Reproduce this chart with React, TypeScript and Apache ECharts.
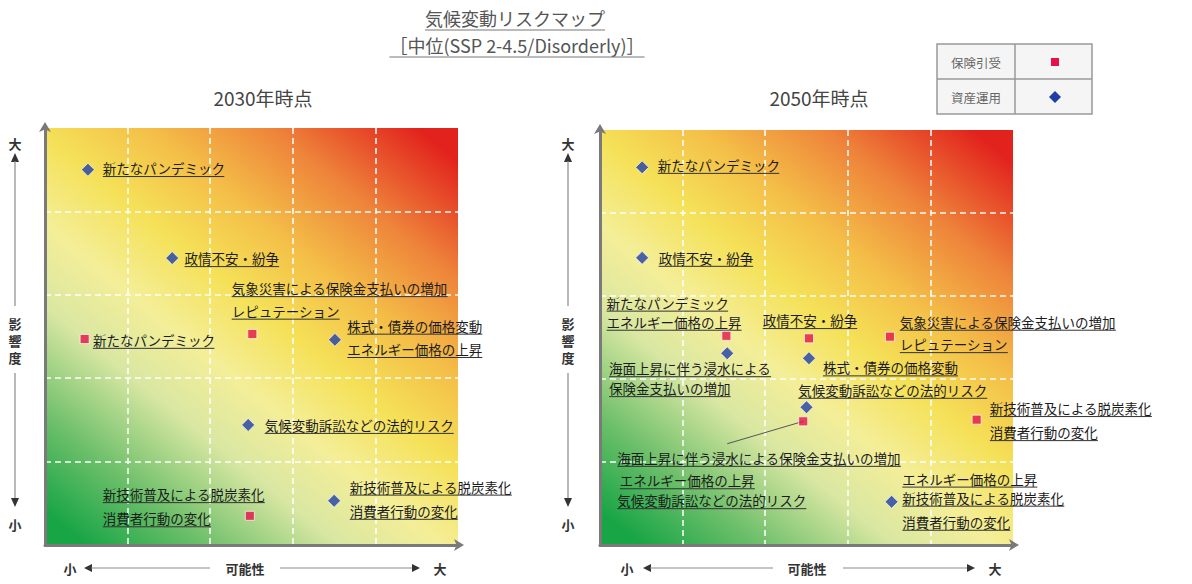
import React, { useEffect, useRef } from "react";
import * as echarts from "echarts";

const FONT = '"Noto Sans CJK JP", "Noto Sans", sans-serif';

// ---- texts ----
const titleLines = ["気候変動リスクマップ", "［中位(SSP 2-4.5/Disorderly)］"];
const panelTitles = ["2030年時点", "2050年時点"];
const legendNames = ["保険引受", "資産運用"];
const yAxisWords = ["大", "影", "響", "度", "小"];
const xAxisWords = ["小", "可能性", "大"];

// ---- data (x: 可能性 0-5, y: 影響度 0-5) ----
// 2030
const ins2030 = [[0.48, 2.47], [2.51, 2.53], [2.48, 0.35]];
const inv2030 = [[0.52, 4.5], [1.54, 3.44], [3.51, 2.46], [2.46, 1.44], [3.5, 0.53]];
const note2030Text = [
  "新たなパンデミック",
  "政情不安・紛争",
  "気象災害による保険金支払いの増加",
  "レピュテーション",
  "株式・債券の価格変動",
  "エネルギー価格の上昇",
  "新たなパンデミック",
  "気候変動訴訟などの法的リスク",
  "新技術普及による脱炭素化",
  "消費者行動の変化",
  "新技術普及による脱炭素化",
  "消費者行動の変化",
];
const note2030Pos = [
  [0.7, 4.52], [1.69, 3.44], [2.26, 3.08], [2.26, 2.81], [3.66, 2.63], [3.66, 2.35],
  [0.58, 2.46], [2.66, 1.44], [0.7, 0.61], [0.7, 0.32], [3.69, 0.7], [3.69, 0.41],
];

// 2050
const ins2050 = [[1.53, 2.52], [2.53, 2.49], [3.51, 2.51], [2.46, 1.49], [4.56, 1.51]];
const inv2050 = [[0.51, 4.55], [0.51, 3.46], [1.54, 2.31], [2.53, 2.25], [2.5, 1.66], [3.53, 0.52]];
const leader2050 = [[2.46, 1.49], [1.54, 1.22]];
const note2050Text = [
  "新たなパンデミック",
  "政情不安・紛争",
  "新たなパンデミック",
  "エネルギー価格の上昇",
  "政情不安・紛争",
  "気象災害による保険金支払いの増加",
  "レピュテーション",
  "海面上昇に伴う浸水による",
  "保険金支払いの増加",
  "株式・債券の価格変動",
  "気候変動訴訟などの法的リスク",
  "新技術普及による脱炭素化",
  "消費者行動の変化",
  "海面上昇に伴う浸水による保険金支払いの増加",
  "エネルギー価格の上昇",
  "気候変動訴訟などの法的リスク",
  "エネルギー価格の上昇",
  "新技術普及による脱炭素化",
  "消費者行動の変化",
];
const note2050Pos = [
  [0.7, 4.58], [0.71, 3.46], [0.08, 2.92], [0.08, 2.69], [1.97, 2.71], [3.63, 2.69],
  [3.63, 2.42], [0.11, 2.13], [0.11, 1.89], [2.7, 2.14], [2.4, 1.87], [4.72, 1.65],
  [4.72, 1.36], [0.21, 1.05], [0.24, 0.78], [0.21, 0.54], [3.66, 0.8], [3.66, 0.57],
  [3.66, 0.28],
];

const RED = "#e5124a";
const BLUE = "#1f3fa8";
const NOTE_FONT = `13.5px ${FONT}`;

let measureCtx: CanvasRenderingContext2D | null = null;
function textWidth(t: string, font: string): number {
  if (!measureCtx) measureCtx = document.createElement("canvas").getContext("2d");
  if (!measureCtx) return t.length * 13;
  measureCtx.font = font;
  return measureCtx.measureText(t).width;
}

function noteSeries(idx: number, texts: string[], pos: number[][]) {
  return {
    type: "custom",
    xAxisIndex: idx,
    yAxisIndex: idx,
    data: pos,
    clip: false,
    silent: true,
    z: 6,
    encode: { x: 0, y: 1 },
    renderItem: (params: any, api: any) => {
      const p = api.coord([api.value(0), api.value(1)]);
      const t = texts[params.dataIndex];
      const w = textWidth(t, NOTE_FONT);
      return {
        type: "group",
        children: [
          {
            type: "text",
            style: {
              text: t,
              x: p[0],
              y: p[1],
              font: NOTE_FONT,
              fill: "#1c1c1c",
              align: "left",
              verticalAlign: "middle",
              textAlign: "left",
              textVerticalAlign: "middle",
            },
          },
          {
            type: "line",
            shape: { x1: p[0], y1: p[1] + 8.5, x2: p[0] + w, y2: p[1] + 8.5 },
            style: { stroke: "#333", lineWidth: 1 },
          },
        ],
      };
    },
  };
}

function gradient() {
  return new echarts.graphic.LinearGradient(0.1, 1, 0.9, 0, [
    { offset: 0, color: "#18a546" },
    { offset: 0.14, color: "#6dbf6a" },
    { offset: 0.3, color: "#d9e7a2" },
    { offset: 0.42, color: "#f4ee98" },
    { offset: 0.55, color: "#f5e158" },
    { offset: 0.68, color: "#f4bf48" },
    { offset: 0.83, color: "#ee833a" },
    { offset: 1, color: "#e2231d" },
  ]);
}

function txt(x: number, y: number, text: string, font: string, fill: string, align = "center") {
  return {
    type: "text",
    x,
    y,
    style: { text, font, fill, textAlign: align, textVerticalAlign: "middle", align, verticalAlign: "middle" },
  };
}

function line(x1: number, y1: number, x2: number, y2: number, stroke = "#8a8a8a", lineWidth = 1.2) {
  return { type: "line", shape: { x1, y1, x2, y2 }, style: { stroke, lineWidth } };
}

function tri(points: number[][]) {
  return { type: "polygon", shape: { points }, style: { fill: "#333" } };
}

function sideY(cx: number) {
  const f = `bold 13px ${FONT}`;
  return [
    txt(cx, 143, yAxisWords[0], f, "#333"),
    tri([[cx, 153], [cx - 4, 162], [cx + 4, 162]]),
    line(cx, 161, cx, 306),
    txt(cx, 323, yAxisWords[1], f, "#333"),
    txt(cx, 340, yAxisWords[2], f, "#333"),
    txt(cx, 357, yAxisWords[3], f, "#333"),
    line(cx, 373, cx, 498),
    tri([[cx, 507], [cx - 4, 498], [cx + 4, 498]]),
    txt(cx, 524, yAxisWords[4], f, "#333"),
  ];
}

function sideX(xs: number, xLeftArrow: number, xLine1End: number, xMid: number, xLine2Start: number, xRightArrow: number, xe: number) {
  const f = `bold 13px ${FONT}`;
  const y = 568;
  return [
    txt(xs, y, xAxisWords[0], f, "#333"),
    tri([[xLeftArrow, y], [xLeftArrow + 8, y - 4], [xLeftArrow + 8, y + 4]]),
    line(xLeftArrow + 7, y, xLine1End, y),
    txt(xMid, y, xAxisWords[1], f, "#333"),
    line(xLine2Start, y, xRightArrow - 7, y),
    tri([[xRightArrow, y], [xRightArrow - 8, y - 4], [xRightArrow - 8, y + 4]]),
    txt(xe, y, xAxisWords[2], f, "#333"),
  ];
}

function underlinedTitle(cx: number, cy: number, text: string, font: string) {
  const w = textWidth(text, font);
  return [
    txt(cx, cy, text, font, "#555"),
    line(cx - w / 2, cy + 12, cx + w / 2, cy + 12, "#777", 1),
  ];
}

export default function App() {
  const ref = useRef<HTMLDivElement>(null);

  useEffect(() => {
    document.body.style.margin = "0";
    if (!ref.current) return;
    const chart = echarts.init(ref.current, undefined, { renderer: "svg" });

    const grids = [
      { left: 45, top: 128, width: 413, height: 417 },
      { left: 600, top: 130, width: 413, height: 415 },
    ].map((g) => ({
      ...g,
      show: true,
      backgroundColor: gradient(),
      borderWidth: 0,
      containLabel: false,
    }));

    const axisCommon = {
      type: "value",
      min: 0,
      max: 5,
      interval: 1,
      axisLabel: { show: false },
      axisTick: { show: false },
      axisLine: {
        show: true,
        onZero: false,
        lineStyle: { color: "#7a7a7a", width: 3 },
        symbol: ["none", "arrow"],
        symbolSize: [9, 10],
        symbolOffset: [0, 6],
      },
      splitLine: {
        show: true,
        showMinLine: false,
        showMaxLine: false,
        lineStyle: { color: "rgba(255,255,255,0.95)", type: [6, 4], width: 1.6 },
      },
    };

    const scatter = (idx: number, data: number[][], kind: "ins" | "inv") => ({
      type: "scatter",
      xAxisIndex: idx,
      yAxisIndex: idx,
      data,
      symbol: kind === "ins" ? "rect" : "diamond",
      symbolSize: kind === "ins" ? 9 : 13,
      itemStyle: {
        color: kind === "ins" ? RED : BLUE,
        borderColor: "rgba(255,255,255,0.85)",
        borderWidth: 1,
      },
      z: 8,
      silent: true,
    });

    const titleFont = `18px ${FONT}`;
    const graphics: any[] = [
      ...underlinedTitle(515, 18, titleLines[0], titleFont),
      ...underlinedTitle(517, 45, titleLines[1], titleFont),
      txt(263, 97, panelTitles[0], `19px ${FONT}`, "#444"),
      txt(819, 97, panelTitles[1], `19px ${FONT}`, "#444"),
      // legend table
      {
        type: "rect",
        shape: { x: 937, y: 44, width: 155, height: 70 },
        style: { fill: "#f5f5f5", stroke: "#999", lineWidth: 1.5 },
      },
      line(1015, 44, 1015, 114, "#999", 1.5),
      line(937, 79, 1092, 79, "#999", 1.5),
      txt(976, 62, legendNames[0], `12.5px ${FONT}`, "#666"),
      txt(976, 97, legendNames[1], `12.5px ${FONT}`, "#666"),
      { type: "rect", shape: { x: 1051, y: 58, width: 8, height: 8 }, style: { fill: RED } },
      { type: "polygon", shape: { points: [[1055, 91], [1061, 97], [1055, 103], [1049, 97]] }, style: { fill: BLUE } },
      ...sideY(15),
      ...sideY(568),
      ...sideX(70, 84, 210, 245, 280, 420, 440),
      ...sideX(627, 643, 773, 807, 843, 975, 995),
    ];

    chart.setOption({
      animation: false,
      backgroundColor: "#ffffff",
      textStyle: { fontFamily: FONT },
      grid: grids,
      xAxis: [0, 1].map((i) => ({ ...axisCommon, gridIndex: i })),
      yAxis: [0, 1].map((i) => ({ ...axisCommon, gridIndex: i })),
      series: [
        scatter(0, ins2030, "ins"),
        scatter(0, inv2030, "inv"),
        noteSeries(0, note2030Text, note2030Pos),
        {
          type: "line",
          xAxisIndex: 1,
          yAxisIndex: 1,
          data: leader2050,
          symbol: "none",
          lineStyle: { color: "#555", width: 1 },
          z: 7,
          silent: true,
        },
        scatter(1, ins2050, "ins"),
        scatter(1, inv2050, "inv"),
        noteSeries(1, note2050Text, note2050Pos),
      ],
      graphic: graphics,
    });

    return () => chart.dispose();
  }, []);

  return <div ref={ref} style={{ width: 1192, height: 584 }} />;
}
